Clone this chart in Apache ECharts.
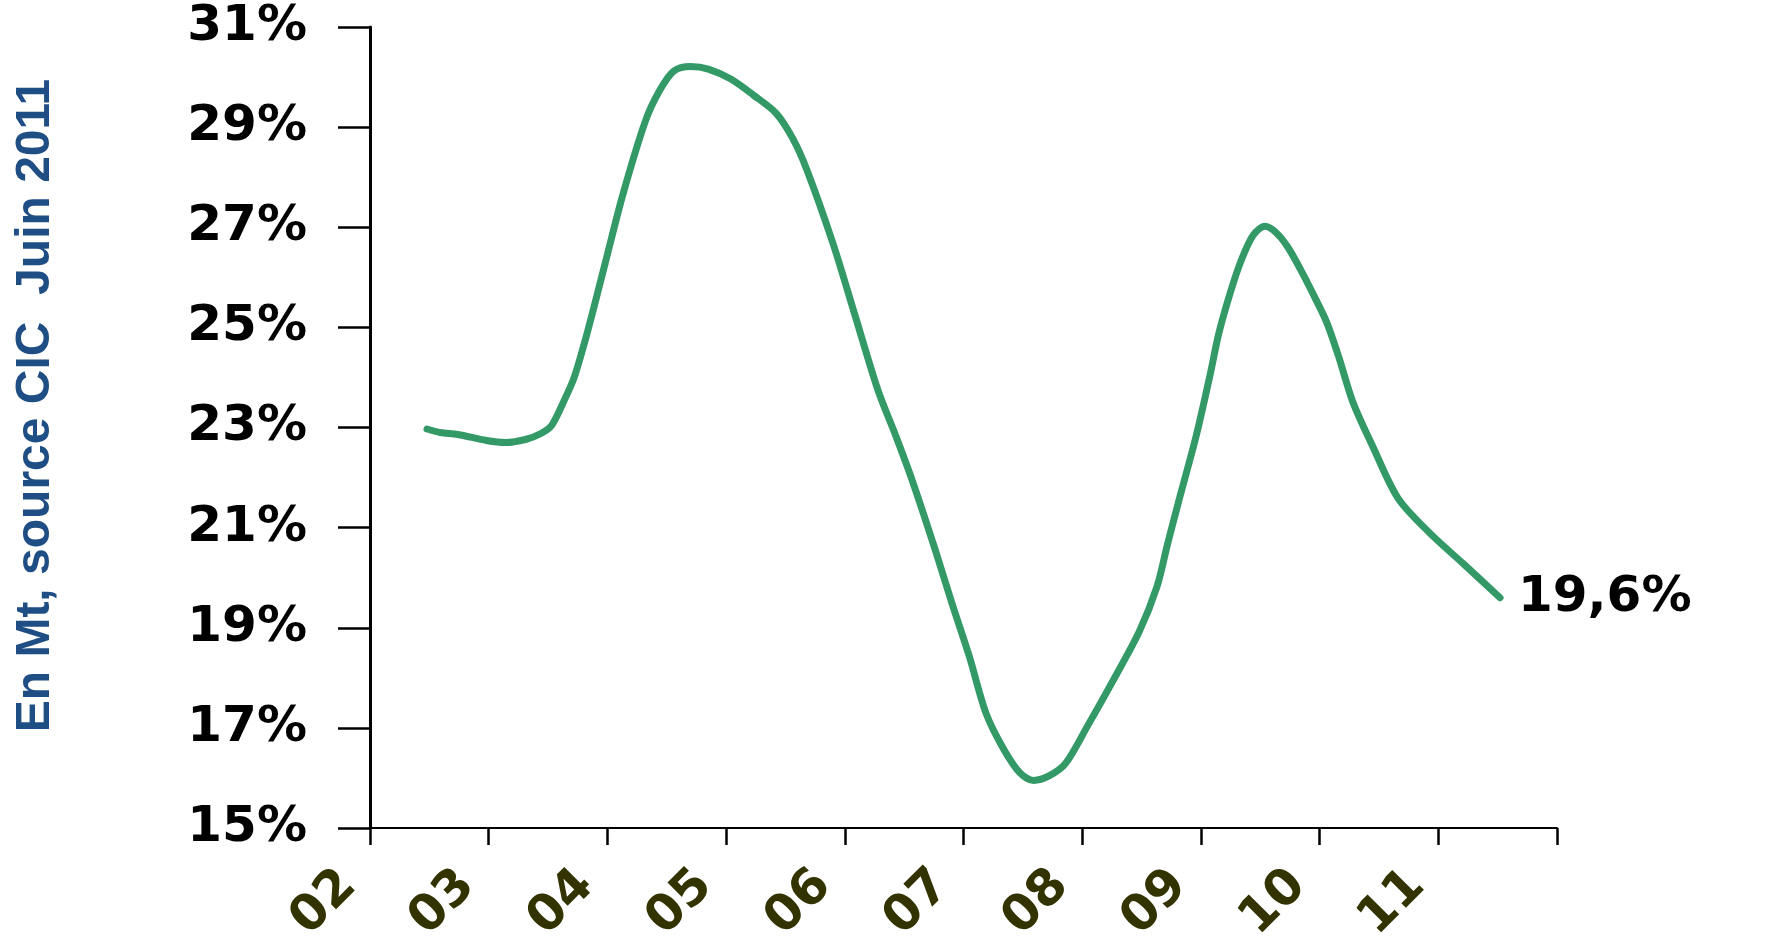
<!DOCTYPE html>
<html>
<head>
<meta charset="utf-8">
<script src="https://cdn.jsdelivr.net/npm/echarts@6/dist/echarts.min.js"></script>
<style>html,body{margin:0;padding:0;background:#fff}#c{width:1775px;height:946px}</style>
</head>
<body>
<div id="c"></div>
<script>
// Year ticks (value axis) and their labels
const yearTicks = [2002, 2003, 2004, 2005, 2006, 2007, 2008, 2009, 2010, 2011, 2012];
const yearLabels = ['02', '03', '04', '05', '06', '07', '08', '09', '10', '11', ''];
// Curve: time (years) and share (%)
const times = [2002.48, 2002.59, 2002.74, 2002.98, 2003.14, 2003.31, 2003.44, 2003.53, 2003.63, 2003.72,
  2003.84, 2003.98, 2004.13, 2004.32, 2004.44, 2004.56, 2004.70, 2004.85, 2005.04, 2005.23,
  2005.42, 2005.56, 2005.68, 2005.90, 2006.09, 2006.28, 2006.43, 2006.57, 2006.76, 2006.90,
  2007.05, 2007.19, 2007.34, 2007.48, 2007.59, 2007.72, 2007.86, 2008.05, 2008.24, 2008.48,
  2008.63, 2008.72, 2008.82, 2008.96, 2009.08, 2009.15, 2009.25, 2009.34, 2009.44, 2009.54,
  2009.63, 2009.73, 2009.85, 2009.97, 2010.06, 2010.16, 2010.28, 2010.45, 2010.66, 2010.92,
  2011.21, 2011.52];
const shares = [22.97, 22.90, 22.86, 22.74, 22.70, 22.76, 22.88, 23.04, 23.51, 24.00,
  24.98, 26.27, 27.65, 29.12, 29.73, 30.12, 30.21, 30.16, 29.96, 29.64,
  29.28, 28.78, 28.15, 26.68, 25.21, 23.74, 22.83, 21.93, 20.57, 19.51,
  18.42, 17.29, 16.57, 16.09, 15.95, 16.04, 16.29, 17.06, 17.86, 18.92,
  19.82, 20.68, 21.59, 22.83, 24.08, 24.87, 25.71, 26.34, 26.84, 27.02,
  26.90, 26.61, 26.11, 25.55, 25.10, 24.42, 23.51, 22.61, 21.59, 20.91,
  20.28, 19.60];
const endLabel = '19,6%';
const yTicks = [15, 17, 19, 21, 23, 25, 27, 29, 31];
const yAxisTitle = 'En Mt, source CIC  Juin 2011';

const seriesData = times.map((t, i) => [t, shares[i]]);

const chart = echarts.init(document.getElementById('c'));
chart.setOption({
  animation: false,
  backgroundColor: '#ffffff',
  grid: { left: 370, right: 218, top: 27, bottom: 118, containLabel: false, outerBoundsMode: 'none' },
  xAxis: {
    type: 'value',
    min: yearTicks[0], max: yearTicks[yearTicks.length - 1], interval: 1,
    splitLine: { show: false },
    axisLine: { show: true, lineStyle: { color: '#000', width: 2 } },
    axisTick: { show: true, length: 17, lineStyle: { color: '#000', width: 2.5 } },
    axisLabel: {
      rotate: 45, margin: 29, padding: [0, 30, 0, 0], color: '#333300', fontFamily: 'DejaVu Sans', fontWeight: 'bold', fontSize: 50,
      showMinLabel: true, showMaxLabel: true,
      formatter: v => { const i = yearTicks.indexOf(Math.round(v)); return i >= 0 ? yearLabels[i] : ''; }
    }
  },
  yAxis: {
    type: 'value', min: yTicks[0], max: yTicks[yTicks.length - 1], interval: 2,
    splitLine: { show: false },
    axisLine: { show: true, lineStyle: { color: '#000', width: 3 } },
    axisTick: { show: true, length: 32, lineStyle: { color: '#000', width: 2.5 } },
    axisLabel: {
      margin: 63, color: '#000', fontFamily: 'DejaVu Sans', fontWeight: 'bold', fontSize: 50,
      formatter: v => v + '%'
    },
    name: yAxisTitle, nameLocation: 'middle', nameRotate: 90, nameGap: 310,
    nameTextStyle: { color: '#1F4E85', fontFamily: 'Liberation Sans', fontWeight: 'bold', fontSize: 48, padding: [0, 0, 0, 44] }
  },
  series: [{
    type: 'line', data: seriesData, smooth: 0.3, showSymbol: false, symbol: 'none',
    lineStyle: { color: '#339966', width: 7, cap: 'round', join: 'round' },
    itemStyle: { color: '#339966' },
    endLabel: {
      show: true, distance: 18, formatter: endLabel,
      color: '#000', fontFamily: 'DejaVu Sans', fontWeight: 'bold', fontSize: 50
    }
  }]
});
</script>
</body>
</html>
